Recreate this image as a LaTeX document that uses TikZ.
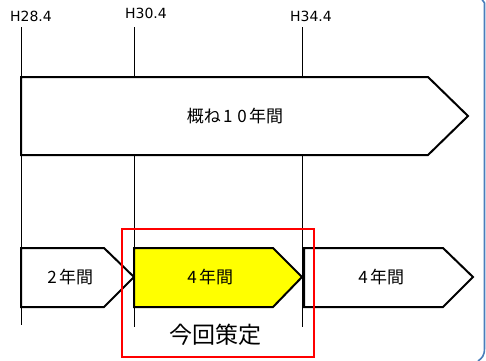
\documentclass[tikz,border=0pt]{standalone}
\usepackage{fontspec}
\newfontfamily\jpfont{Noto Sans CJK JP}
\newfontfamily\latfont{DejaVu Sans}
\newcommand{\dgt}[1]{\kern2.4pt#1\kern2.4pt}
\definecolor{frameblue}{HTML}{4A7EBB}
\definecolor{markyellow}{HTML}{FFFF00}
\begin{document}
\begin{tikzpicture}[x=1pt,y=-1pt,
  tick/.style={draw=black,line width=0.9pt},
  arrowbox/.style={draw=black,line width=2pt,fill=white,line join=miter},
  datelabel/.style={font=\latfont\fontsize{14}{15}\selectfont,inner sep=0pt},
  jplabel/.style={font=\jpfont\fontsize{17}{18}\selectfont,inner sep=0pt},
  biglabel/.style={font=\jpfont\fontsize{23}{24}\selectfont,inner sep=0pt}]
\useasboundingbox (0,0) rectangle (486,360);
% ticks
\coordinate (t1a) at (21,27);  \coordinate (t1b) at (21,325);
\coordinate (t2a) at (134,27); \coordinate (t2b) at (134,327);
\coordinate (t3a) at (302,27); \coordinate (t3b) at (302,327);
\draw[tick] (t1a) -- (t1b);
\draw[tick] (t2a) -- (t2b);
\draw[tick] (t3a) -- (t3b);
\node[datelabel] (d1) at (31,16) {H28.4};
\node[datelabel] (d2) at (146,13) {H30.4};
\node[datelabel] (d3) at (311,16) {H34.4};
% big arrow
\draw[arrowbox] (21,77) -- (428,77) -- (468,116) -- (428,155) -- (21,155) -- cycle;
\node[jplabel] (big) at (235,116) {概ね\dgt{1}\dgt{0}年間};
% lower arrows
\draw[arrowbox] (21,248) -- (104,248) -- (134,277) -- (104,307) -- (21,307) -- cycle;
\draw[arrowbox,fill=markyellow] (134,248) -- (273,248) -- (302,277) -- (273,307) -- (134,307) -- cycle;
\draw[arrowbox] (304,248) -- (443,248) -- (473,277) -- (443,307) -- (304,307) -- cycle;
\node[jplabel] (a1) at (69,277) {\dgt{2}年間};
\node[jplabel] (a2) at (209,277) {\dgt{4}年間};
\node[jplabel] (a3) at (380,277) {\dgt{4}年間};
% red box
\draw[red,line width=2.5pt] (122,229) rectangle (314,357);
\node[biglabel] (cur) at (215,335) {今回策定};
% frame edge
\draw[frameblue,line width=1.6pt] (481,-2) -- (484.5,3) -- (484.5,348) .. controls (484.5,356) and (482,358) .. (478,361);
\end{tikzpicture}
\end{document}
